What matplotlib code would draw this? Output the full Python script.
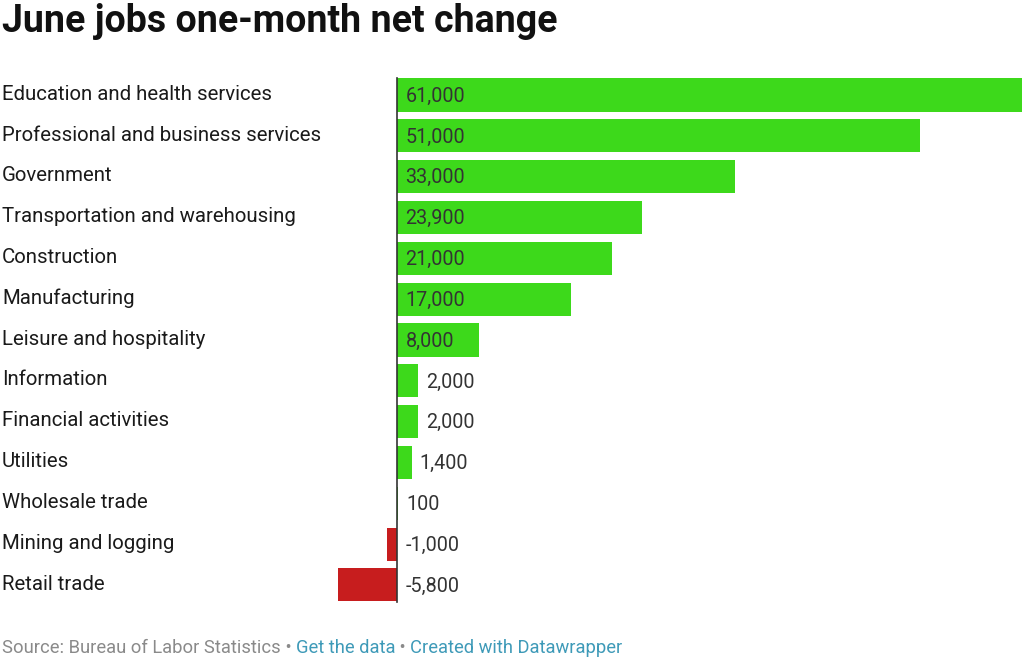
import matplotlib
matplotlib.use("Agg")
import matplotlib.pyplot as plt
from matplotlib.transforms import blended_transform_factory

categories = ["Education and health services", "Professional and business services",
              "Government", "Transportation and warehousing", "Construction",
              "Manufacturing", "Leisure and hospitality", "Information",
              "Financial activities", "Utilities", "Wholesale trade",
              "Mining and logging", "Retail trade"]
values = [61000, 51000, 33000, 23900, 21000, 17000, 8000, 2000, 2000, 1400, 100, -1000, -5800]

green = "#3dd91b"
red = "#c71d1e"
txt = "#333333"

plt.rcParams['font.family'] = ['Roboto', 'DejaVu Sans']

W, H = 1024, 660
fig = plt.figure(figsize=(W / 100, H / 100), dpi=100)

n = len(categories)
step = 40.83
top = 95 - step / 2
bottom = top + step * n
x0, x1 = 338, 1022
ax = fig.add_axes([x0 / W, 1 - bottom / H, (x1 - x0) / W, (bottom - top) / H])
ax.set_xlim(-5800, 61000)
ax.set_ylim(n - 0.5, -0.5)
ax.axis("off")

ys = list(range(n))
cols = [green if v >= 0 else red for v in values]
ax.barh(ys, values, height=0.81, color=cols)
ax.plot([0, 0], [-0.42, n - 0.58], color="#333333", lw=1.2)

px = 66800 / (x1 - x0)  # data units per pixel
lab = blended_transform_factory(fig.transFigure, ax.transData)
for y, c, v in zip(ys, categories, values):
    fig.text(2 / W, y - 0.02, c, transform=lab, fontsize=14.7, color="#1a1a1a", va="center")
    s = f"{v:,}"
    if v >= 5000:
        xt = 8 * px
    elif v > 0:
        xt = v + 8 * px
    else:
        xt = 8 * px
    ax.text(xt, y + 0.03, s, fontsize=14.2, color=txt, va="center")

fig.text(2 / W, 1 - 22 / H, "June jobs one-month net change", fontsize=27,
         fontweight="bold", color="#111111", va="center")

parts = [("Source: Bureau of Labor Statistics", "#8a8a8a"), (" • ", "#8a8a8a"),
         ("Get the data", "#3e9ab8"), (" • ", "#8a8a8a"),
         ("Created with Datawrapper", "#3e9ab8")]
fig.canvas.draw()
xpos = 2
r = fig.canvas.get_renderer()
for s, c in parts:
    t = fig.text(xpos / W, 1 - 648 / H, s, fontsize=13.2, color=c, va="center")
    bb = t.get_window_extent(renderer=r)
    xpos += bb.width

fig.savefig("out.png", dpi=100, facecolor="white")
